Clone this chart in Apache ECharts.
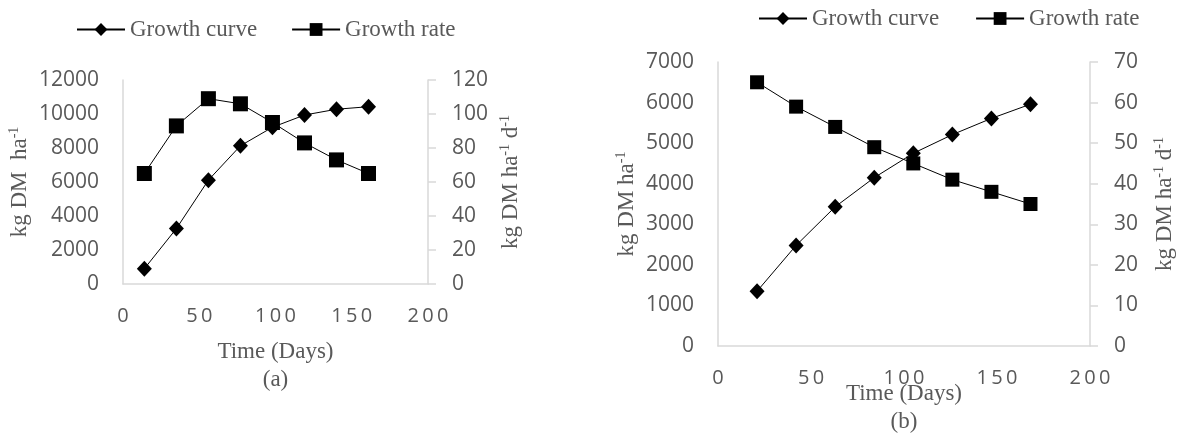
<!DOCTYPE html>
<html><head><meta charset="utf-8">
<script src="https://cdn.jsdelivr.net/npm/echarts@6/dist/echarts.min.js"></script>
<style>html,body{margin:0;padding:0;background:#fff}#c{width:1178px;height:436px}</style>
</head><body><div id="c"></div>
<script>
// ---- data ----
const daysA  = [14, 35, 56, 77, 98, 119, 140, 161];
const curveA = [900, 3260, 6110, 8130, 9220, 9940, 10280, 10430];
const rateA  = [65, 93, 109, 106, 95, 83, 73, 65];
const daysB  = [21, 42, 63, 84, 105, 126, 147, 168];
const curveB = [1350, 2480, 3430, 4150, 4750, 5210, 5610, 5960];
const rateB  = [65, 59, 54, 49, 45, 41, 38, 35];
const seriesNames = ['Growth curve', 'Growth rate'];
const panelLabels = ['(a)', '(b)'];
const xRange = [0, 200, 50];
const leftRangeA = [0, 12000, 2000];
const rightRangeA = [0, 120, 20];
const leftRangeB = [0, 7000, 1000];
const rightRangeB = [0, 70, 10];

// ---- styling ----
const TXT = '#595959';
const AX = '#d9d9d9';
const SANS = 'Open Sans';
const SERIF = 'Liberation Serif';
const pair = (xs, ys) => xs.map((x, i) => [x, ys[i]]);
const spaced = v => String(v).split('').join('\u2009');
const plain = v => String(v);

const nameRich = {
  n: {fontFamily: SERIF, fontSize: 23, color: TXT, lineHeight: 26},
  s: {fontFamily: SERIF, fontSize: 14, color: TXT, lineHeight: 14, verticalAlign: 'top'}
};

function xAxis(gi, gap) {
  return {
    type: 'value', gridIndex: gi, min: xRange[0], max: xRange[1], interval: xRange[2],
    axisLine: {show: true, lineStyle: {color: AX, width: 1.5}},
    axisTick: {show: false}, splitLine: {show: false},
    axisLabel: {margin: 22, color: TXT, fontFamily: SANS, fontSize: 20, formatter: spaced},
    name: 'Time (Days)\n' + panelLabels[gi], nameLocation: 'middle', nameGap: gap,
    nameMoveOverlap: false,
    nameTextStyle: {fontFamily: SERIF, fontSize: 23, color: TXT, lineHeight: 28}
  };
}
function yAxis(gi, pos, r, name, gap) {
  return {
    type: 'value', gridIndex: gi, position: pos, min: r[0], max: r[1], interval: r[2],
    axisLine: {show: true, lineStyle: {color: AX, width: 1.5}},
    axisTick: {show: pos === 'right', length: 8, lineStyle: {color: AX, width: 1.5}},
    splitLine: {show: false},
    axisLabel: {margin: pos === 'right' ? 24 : 24, color: TXT, fontFamily: SANS, fontSize: 21, formatter: plain},
    name: name, nameLocation: 'middle', nameRotate: 90, nameGap: gap,
    nameMoveOverlap: false,
    nameTextStyle: {rich: nameRich}
  };
}
function series(name, xi, yi, data, sym, size) {
  return {
    type: 'line', name: name, xAxisIndex: xi, yAxisIndex: yi, data: data,
    symbol: sym, symbolSize: size, showSymbol: true,
    lineStyle: {color: '#000', width: 1}, itemStyle: {color: '#000'},
    emphasis: {disabled: true}
  };
}
function legend(left, top, gap) {
  return {
    left: left, top: top, itemWidth: 48, itemHeight: 16, itemGap: gap,
    data: seriesNames, selectedMode: false,
    textStyle: {fontFamily: SERIF, fontSize: 23, color: TXT}
  };
}

const chart = echarts.init(document.getElementById('c'), null, {renderer: 'canvas'});
chart.setOption({
  animation: false,
  backgroundColor: '#fff',
  legend: [legend(71, 13, 34), legend(753, 2, 36)],
  grid: [
    {left: 123, top: 80, width: 305, height: 204, outerBoundsMode: 'none', containLabel: false},
    {left: 718, top: 62, width: 372, height: 284, outerBoundsMode: 'none', containLabel: false}
  ],
  xAxis: [xAxis(0, 54), xAxis(1, 34)],
  yAxis: [
    yAxis(0, 'left', leftRangeA, '{n|kg DM  ha}{s|-1}', 90),
    yAxis(0, 'right', rightRangeA, '{n|kg DM ha}{s|-1}{n| d}{s|-1}', 70),
    yAxis(1, 'left', leftRangeB, '{n|kg DM ha}{s|-1}', 78),
    yAxis(1, 'right', rightRangeB, '{n|kg DM ha}{s|-1}{n| d}{s|-1}', 62)
  ],
  series: [
    series(seriesNames[0], 0, 0, pair(daysA, curveA), 'diamond', [15, 16]),
    series(seriesNames[1], 0, 1, pair(daysA, rateA), 'rect', 15),
    series(seriesNames[0], 1, 2, pair(daysB, curveB), 'diamond', [15, 16]),
    series(seriesNames[1], 1, 3, pair(daysB, rateB), 'rect', 14)
  ]
});
</script>
</body></html>
